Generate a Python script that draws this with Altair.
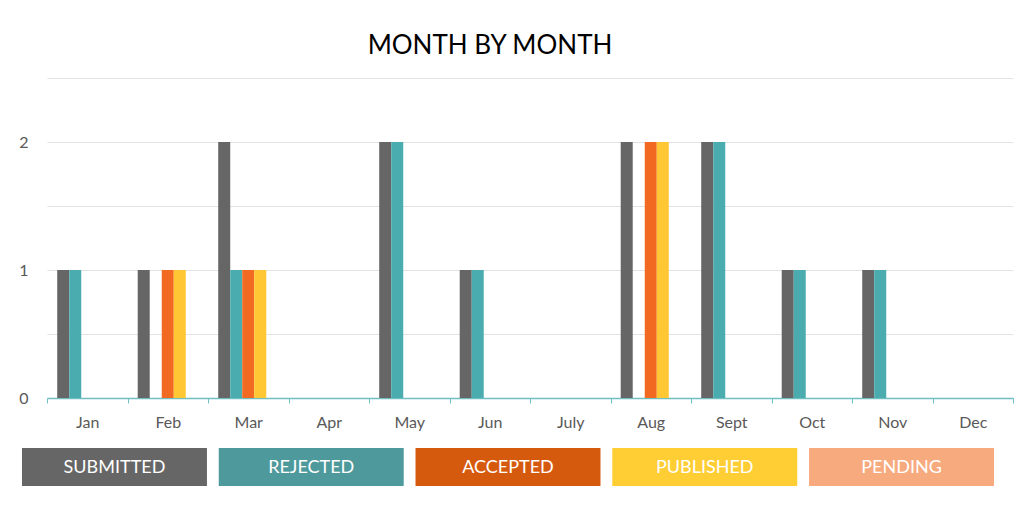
import altair as alt
import pandas as pd

months = ["Jan", "Feb", "Mar", "Apr", "May", "Jun", "July", "Aug", "Sept", "Oct", "Nov", "Dec"]
series = ["SUBMITTED", "REJECTED", "ACCEPTED", "PUBLISHED", "PENDING"]
submitted = [1, 1, 2, 0, 2, 1, 0, 2, 2, 1, 1, 0]
rejected = [1, 0, 1, 0, 2, 1, 0, 0, 2, 1, 1, 0]
accepted = [0, 1, 1, 0, 0, 0, 0, 2, 0, 0, 0, 0]
published = [0, 1, 1, 0, 0, 0, 0, 2, 0, 0, 0, 0]
pending = [0, 0, 0, 0, 0, 0, 0, 0, 0, 0, 0, 0]
bar_colors = ["#666666", "#4BACB0", "#F26A22", "#FFC734", "#F9A87A"]
legend_colors = ["#666666", "#4E999C", "#D65A0E", "#FFCE34", "#F8AA7F"]

rows = []
for s, vals in zip(series, [submitted, rejected, accepted, published, pending]):
    for m, v in zip(months, vals):
        rows.append({"month": m, "series": s, "value": v})
df = pd.DataFrame(rows)
leg = pd.DataFrame({"series": series, "fill": legend_colors})

W, H = 966, 320
font = "Lato"

bars = alt.Chart(df).transform_filter("datum.value > 0").mark_bar().encode(
    x=alt.X("month:N", sort=months,
            scale=alt.Scale(domain=months, paddingInner=0, paddingOuter=0),
            axis=alt.Axis(title=None, labelAngle=0, labelFont=font, labelFontSize=16,
                          labelColor="#595959", labelPadding=11, domainColor="#6FBFC3",
                          domainWidth=1.5, tickColor="#6FBFC3", tickSize=5, tickBand="extent",
                          grid=False)),
    xOffset=alt.XOffset("series:N", sort=series,
                        scale=alt.Scale(domain=series, paddingInner=0, paddingOuter=0.85)),
    y=alt.Y("value:Q", scale=alt.Scale(domain=[0, 2.5], nice=False),
            axis=alt.Axis(title=None, values=[0, 0.5, 1, 1.5, 2, 2.5],
                          labelExpr="datum.value % 1 == 0 && datum.value < 2.5 ? format(datum.value, 'd') : ''",
                          labelFont=font, labelFontSize=16, labelColor="#595959",
                          labelPadding=19, ticks=False, domain=False,
                          gridColor="#E2E2E2", gridWidth=1)),
    color=alt.Color("series:N", scale=alt.Scale(domain=series, range=bar_colors), legend=None),
)

legscale = alt.Scale(domain=series, range=[-25, 947], paddingInner=0.06, paddingOuter=0)
boxes = alt.Chart(leg).mark_rect().encode(
    x=alt.X("series:N", sort=series, scale=legscale, axis=None),
    y=alt.value(370), y2=alt.value(408),
    color=alt.Color("fill:N", scale=None, legend=None),
)
labels = alt.Chart(leg).mark_text(color="white", font=font, fontSize=18, baseline="middle").encode(
    x=alt.X("series:N", sort=series, bandPosition=0.5, scale=legscale, axis=None),
    y=alt.value(390),
    text="series:N",
)

chart = alt.layer(bars, boxes + labels).resolve_scale(x="independent", color="independent").properties(
    width=W, height=H,
    title=alt.TitleParams("MONTH BY MONTH", font=font, fontSize=26, fontWeight="normal",
                          color="#000000", anchor="middle", offset=19, dx=-40),
    padding={"left": 10, "top": 25, "right": 0, "bottom": 5},
).configure_view(stroke=None)

chart.save("out.html", embed_options={"renderer": "svg", "actions": False})
